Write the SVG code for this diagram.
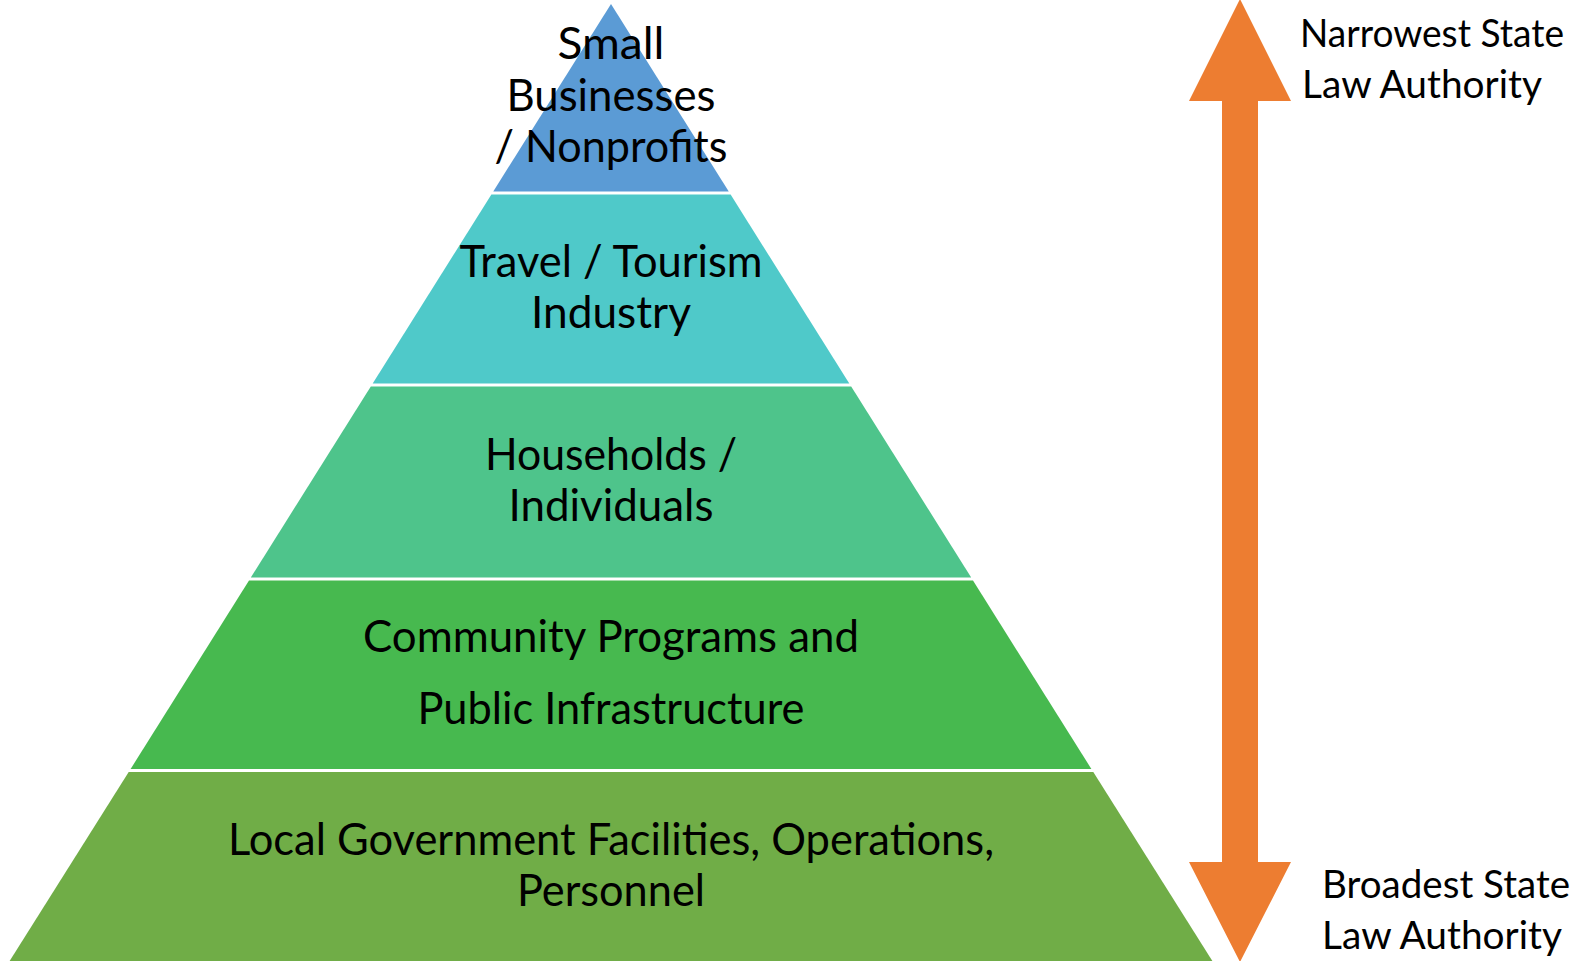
<svg xmlns="http://www.w3.org/2000/svg" width="1575" height="961" viewBox="0 0 1575 961">
<style>
text{font-family:Lato,"Open Sans","Liberation Sans",sans-serif;font-size:43.5px;fill:#000}
.c{text-anchor:middle}
.r{font-size:39px}
</style>
<rect width="1575" height="961" fill="#fff"/>
<g id="tier-small-businesses">
<polygon points="611,4 728.75,191.5 493.25,191.5" fill="#5B9BD5"/>
<text class="c" x="611" y="59" textLength="107" lengthAdjust="spacingAndGlyphs">Small</text>
<text class="c" x="611" y="111" textLength="209" lengthAdjust="spacingAndGlyphs">Businesses</text>
<text class="c" x="611" y="162" textLength="233" lengthAdjust="spacingAndGlyphs">/ Nonprofits</text>
</g>
<g id="tier-travel-tourism">
<polygon points="491.4,194.5 730.6,194.5 849.3,383.5 372.7,383.5" fill="#4FC9C9"/>
<text class="c" x="611" y="277" textLength="303" lengthAdjust="spacingAndGlyphs">Travel / Tourism</text>
<text class="c" x="611" y="328" textLength="160" lengthAdjust="spacingAndGlyphs">Industry</text>
</g>
<g id="tier-households">
<polygon points="370.8,386.5 851.2,386.5 971.2,577.5 250.8,577.5" fill="#4EC48B"/>
<text class="c" x="611" y="470" textLength="252" lengthAdjust="spacingAndGlyphs">Households /</text>
<text class="c" x="611" y="521" textLength="205" lengthAdjust="spacingAndGlyphs">Individuals</text>
</g>
<g id="tier-community">
<polygon points="249,580.5 973,580.5 1091.4,769 130.6,769" fill="#47B94F"/>
<text class="c" x="611" y="652" textLength="496" lengthAdjust="spacingAndGlyphs">Community Programs and</text>
<text class="c" x="611" y="724" textLength="387" lengthAdjust="spacingAndGlyphs">Public Infrastructure</text>
</g>
<g id="tier-local-government">
<polygon points="128.7,772 1093.3,772 1213,962 9,962" fill="#70AD47"/>
<text class="c" x="611" y="855" textLength="766" lengthAdjust="spacingAndGlyphs">Local Government Facilities, Operations,</text>
<text class="c" x="611" y="906" textLength="188" lengthAdjust="spacingAndGlyphs">Personnel</text>
</g>
<g id="connectors">
<polygon points="1240,-1 1291,101 1258,101 1258,862 1291,862 1240,962 1189,862 1222,862 1222,101 1189,101" fill="#ED7D31"/>
</g>
<g id="label-narrowest">
<text class="r" x="1300" y="47" textLength="264" lengthAdjust="spacingAndGlyphs">Narrowest State</text>
<text class="r" x="1302" y="98" textLength="240" lengthAdjust="spacingAndGlyphs">Law Authority</text>
</g>
<g id="label-broadest">
<text class="r" x="1322" y="898" textLength="248" lengthAdjust="spacingAndGlyphs">Broadest State</text>
<text class="r" x="1322" y="949" textLength="240" lengthAdjust="spacingAndGlyphs">Law Authority</text>
</g>
</svg>
